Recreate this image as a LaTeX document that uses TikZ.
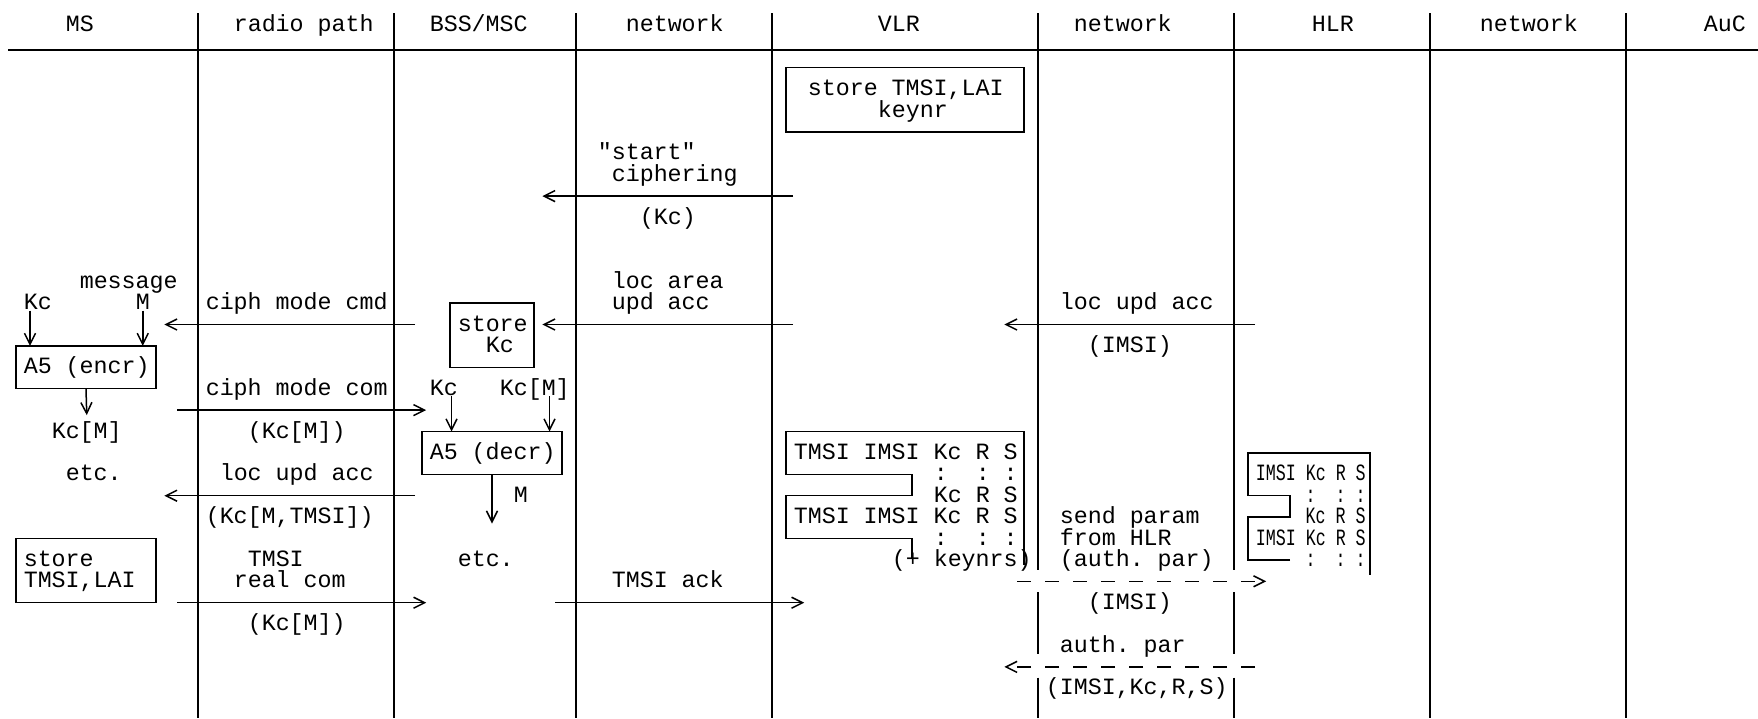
\documentclass[tikz,border=0pt]{standalone}
\usepackage{fontspec}
\setmonofont{Liberation Mono}
\newfontfamily\narrowtt[FakeStretch=0.7143]{Liberation Mono}
\usetikzlibrary{arrows.meta}
\frenchspacing

\tikzset{
  lbl/.style={anchor=west, inner sep=0pt, text height=13.3pt, text depth=0pt},
  hlbl/.style={lbl, font=\narrowtt\fontsize{23.33pt}{21.4pt}\selectfont},
  box/.style={draw, inner sep=0pt, outer sep=0pt},
  msg/.style={-{Straight Barb[length=11pt,width=11pt]}},
  dsh/.style={dash pattern=on 14pt off 14pt},
}

\begin{document}
\begin{tikzpicture}[x=14pt, y=-21.4pt, line width=1.5pt,
    font=\ttfamily\fontsize{23.33pt}{21.4pt}\selectfont]
  \useasboundingbox (0.357,-1.164) rectangle (125.929,32.388);

  % header
  \node[lbl] (hms) at (5,0) {MS};
  \node[lbl] (hradio) at (17,0) {radio path};
  \node[lbl] (hbss) at (31,0) {BSS/MSC};
  \node[lbl] (hnet1) at (45,0) {network};
  \node[lbl] (hvlr) at (63,0) {VLR};
  \node[lbl] (hnet2) at (77,0) {network};
  \node[lbl] (hhlr) at (94,0) {HLR};
  \node[lbl] (hnet3) at (106,0) {network};
  \node[lbl] (hauc) at (122,0) {AuC};
  \draw[line width=2.2pt] (0.96,1.16) -- (125.93,1.16);

  % lifelines
  \foreach \c in {14.5,28.5,41.5,55.5,102.5,116.5}
    \draw (\c,-0.55) -- (\c,32.4);
  \foreach \c in {74.5,88.5} {
    \draw (\c,-0.55) -- (\c,25.45);
    \draw (\c,26.5) -- (\c,29.4);
    \draw (\c,30.5) -- (\c,32.4);
  }

  % MS
  \node[lbl] (msg) at (6,12) {message};
  \node[lbl] (kc1) at (2,13) {Kc};
  \node[lbl] (m1) at (10,13) {M};
  \node[box, minimum width=140pt, minimum height=42.8pt] (a5e) at (6.5,16) {};
  \node[lbl] (a5etxt) at (2,16) {A5 (encr)};
  \node[lbl] (kcm1) at (4,19) {Kc[M]};
  \node[lbl] (etc1) at (5,21) {etc.};
  \node[box, minimum width=140pt, minimum height=64.2pt] (storems) at (6.5,25.5) {};
  \node[lbl] (stms1) at (2,25) {store};
  \node[lbl] (stms2) at (2,26) {TMSI,LAI};
  \draw[msg] ([xshift=7pt]kc1.south west) -- ([xshift=7pt]kc1.south west |- a5e.north);
  \draw[msg] (m1.south) -- (m1.south |- a5e.north);
  \draw[msg] (a5e.south) -- ([yshift=9pt]kcm1.north);

  % radio path
  \node[lbl] (cmcmd) at (15,13) {ciph mode cmd};
  \node[lbl] (cmcom) at (15,17) {ciph mode com};
  \node[lbl] (kcm2) at (18,19) {(Kc[M])};
  \node[lbl] (lua1) at (16,21) {loc upd acc};
  \node[lbl] (kcmt) at (15,23) {(Kc[M,TMSI])};
  \node[lbl] (tmsi1) at (18,25) {TMSI};
  \node[lbl] (rcom) at (17,26) {real com};
  \node[lbl] (kcm3) at (18,28) {(Kc[M])};

  % BSS/MSC
  \node[box, minimum width=84pt, minimum height=64.2pt] (storekc) at (35.5,14.5) {};
  \node[lbl] (stkc1) at (33,14) {store};
  \node[lbl] (stkc2) at (35,15) {Kc};
  \node[lbl] (kc2) at (31,17) {Kc};
  \node[lbl] (kcm4) at (36,17) {Kc[M]};
  \node[box, minimum width=140pt, minimum height=42.8pt] (a5d) at (35.5,20) {};
  \node[lbl] (a5dtxt) at (31,20) {A5 (decr)};
  \node[lbl] (m2) at (37,22) {M};
  \node[lbl] (etc2) at (33,25) {etc.};
  \coordinate (vdec) at (35.5,23.3);
  \draw[msg] ([xshift=-7pt]kc2.south east) -- ([xshift=-7pt]kc2.south east |- a5d.north);
  \draw[msg] ([xshift=-21pt]kcm4.south east) -- ([xshift=-21pt]kcm4.south east |- a5d.north);
  \draw[msg] (a5d.south) -- (vdec);

  % network (BSS - VLR)
  \node[lbl] (start) at (43,6) {"start"};
  \node[lbl] (ciph) at (44,7) {ciphering};
  \node[lbl] (kc3) at (46,9) {(Kc)};
  \node[lbl] (larea) at (44,12) {loc area};
  \node[lbl] (uacc) at (44,13) {upd acc};
  \node[lbl] (tack) at (44,26) {TMSI ack};

  % VLR
  \node[box, minimum width=238pt, minimum height=64.2pt] (storevlr) at (65,3.5) {};
  \node[lbl] (stv1) at (58,3) {store TMSI,LAI};
  \node[lbl] (stv2) at (63,4) {keynr};
  \draw (65.5,24.9) -- (65.5,24) -- (56.5,24) -- (56.5,22) -- (65.5,22) -- (65.5,21)
    -- (56.5,21) -- (56.5,19) -- (73.5,19) -- (73.5,25.25);
  \node[lbl] (vrow1) at (57,20) {TMSI IMSI Kc R S};
  \node[lbl] (vrow2) at (67,21) {:~~:~:};
  \node[lbl] (vrow3) at (67,22) {Kc R S};
  \node[lbl] (vrow4) at (57,23) {TMSI IMSI Kc R S};
  \node[lbl] (vrow5) at (67,24) {:~~:~:};
  \node[lbl] (vrow6) at (64,25) {(+ keynrs)};

  % network (VLR - HLR)
  \node[lbl] (lua2) at (76,13) {loc upd acc};
  \node[lbl] (imsi1) at (78,15) {(IMSI)};
  \node[lbl] (spar1) at (76,23) {send param};
  \node[lbl] (spar2) at (76,24) {from HLR};
  \node[lbl] (spar3) at (76,25) {(auth. par)};
  \node[lbl] (imsi2) at (78,27) {(IMSI)};
  \node[lbl] (apar1) at (76,29) {auth. par};
  \node[lbl] (apar2) at (75,31) {(IMSI,Kc,R,S)};

  % HLR
  \draw (92.5,25) -- (89.5,25) -- (89.5,23) -- (92.5,23) -- (92.5,22) -- (89.5,22)
    -- (89.5,20) -- (98.2,20) -- (98.2,25.7);
  \node[hlbl] (hrow1) at (90,21) {IMSI Kc R S};
  \node[hlbl] (hrow2) at (93.57,22) {:~~:~:};
  \node[hlbl] (hrow3) at (93.57,23) {Kc R S};
  \node[hlbl] (hrow4) at (90,24) {IMSI Kc R S};
  \node[hlbl] (hrow5) at (93.57,25) {:~~:~:};

  % messages
  \foreach \n/\xa/\xb/\r in {1/57/39.1/8, 2/30/12.1/14, 3/57/39.1/14, 4/90/72.1/14,
      5/13/30.8/18, 6/30/12.1/22, 7/13/30.8/27, 8/40/57.8/27} {
    \coordinate (src\n) at (\xa,\r);
    \coordinate (dst\n) at (\xb,\r);
    \draw[msg] (src\n) -- (dst\n);
  }
  \coordinate (src9) at (73,26);
  \coordinate (dst9) at (90.8,26);
  \coordinate (src10) at (90,30);
  \coordinate (dst10) at (72.1,30);
  \draw[msg, dsh] (src9) -- (dst9);
  \draw[msg, dsh] (src10) -- (dst10);
\end{tikzpicture}
\end{document}
